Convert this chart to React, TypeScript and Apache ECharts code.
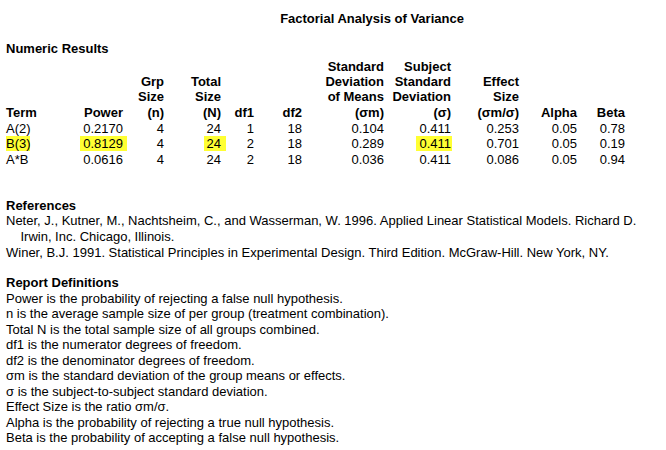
import * as echarts from "echarts"
import { useEffect, useRef } from "react"

const title = "Factorial Analysis of Variance"
const headers = [
  ["Term"],
  ["Power"],
  ["Grp", "Size", "(n)"],
  ["Total", "Size", "(N)"],
  ["df1"],
  ["df2"],
  ["Standard", "Deviation", "of Means", "(σm)"],
  ["Subject", "Standard", "Deviation", "(σ)"],
  ["Effect", "Size", "(σm/σ)"],
  ["Alpha"],
  ["Beta"],
]
const rows = [
  ["A(2)", "0.2170", "4", "24", "1", "18", "0.104", "0.411", "0.253", "0.05", "0.78"],
  ["B(3)", "0.8129", "4", "24", "2", "18", "0.289", "0.411", "0.701", "0.05", "0.19"],
  ["A*B", "0.0616", "4", "24", "2", "18", "0.036", "0.411", "0.086", "0.05", "0.94"],
]
// highlighted cells: [row, col]
const highlights = [[1, 0], [1, 1], [1, 3], [1, 7]]
const references = [
  "Neter, J., Kutner, M., Nachtsheim, C., and Wasserman, W. 1996. Applied Linear Statistical Models. Richard D.",
  "    Irwin, Inc. Chicago, Illinois.",
  "Winer, B.J. 1991. Statistical Principles in Experimental Design. Third Edition. McGraw-Hill. New York, NY.",
]
const definitions = [
  "Power is the probability of rejecting a false null hypothesis.",
  "n is the average sample size of per group (treatment combination).",
  "Total N is the total sample size of all groups combined.",
  "df1 is the numerator degrees of freedom.",
  "df2 is the denominator degrees of freedom.",
  "σm is the standard deviation of the group means or effects.",
  "σ is the subject-to-subject standard deviation.",
  "Effect Size is the ratio σm/σ.",
  "Alpha is the probability of rejecting a true null hypothesis.",
  "Beta is the probability of accepting a false null hypothesis.",
]

const colRight = [0, 123, 164, 221, 254, 302, 384, 451, 519, 577, 625]
const hlBox: Record<number, [number, number]> = { 0: [6, 30], 1: [80, 127], 3: [204, 226], 7: [416, 452] }
const font = "Arial, 'Liberation Sans', sans-serif"

export default function App() {
  const ref = useRef<HTMLDivElement>(null)

  useEffect(() => {
    document.body.style.margin = "0"
    if (!ref.current) return
    const chart = echarts.init(ref.current, null, { renderer: "svg" })
    const els: any[] = []
    const txt = (x: number, y: number, text: string, bold = false, align = "left") =>
      els.push({
        type: "text", x, y,
        style: { text, fill: "#000", font: `${bold ? "bold " : ""}13px ${font}`, align, verticalAlign: "middle" },
      })

    highlights.forEach(([r, c]) => {
      const [x0, x1] = hlBox[c]
      els.push({ type: "rect", shape: { x: x0, y: 136 + (r - 1) * 15.5, width: x1 - x0, height: 15 }, style: { fill: "#ffff33" } })
    })

    txt(372, 18, title, true, "center")
    txt(6, 48, "Numeric Results", true)
    const headerY = [66, 81, 96, 112]
    headers.forEach((lines, c) => {
      lines.forEach((l, i) => {
        const y = headerY[4 - lines.length + i]
        if (c === 0) txt(6, y, l, true)
        else txt(colRight[c], y, l, true, "right")
      })
    })
    rows.forEach((row, r) => {
      const y = 128 + r * 15.5
      row.forEach((v, c) => {
        if (c === 0) txt(6, y, v)
        else txt(colRight[c], y, v, false, "right")
      })
    })

    txt(6, 205, "References", true)
    references.forEach((l, i) => txt(6, 220 + i * 16, l))
    txt(6, 282, "Report Definitions", true)
    definitions.forEach((l, i) => txt(6, 298 + i * 15.5, l))

    chart.setOption({ animation: false, backgroundColor: "#fff", graphic: { elements: els } })
    return () => chart.dispose()
  }, [])

  return <div ref={ref} style={{ width: 666, height: 450 }} />
}
